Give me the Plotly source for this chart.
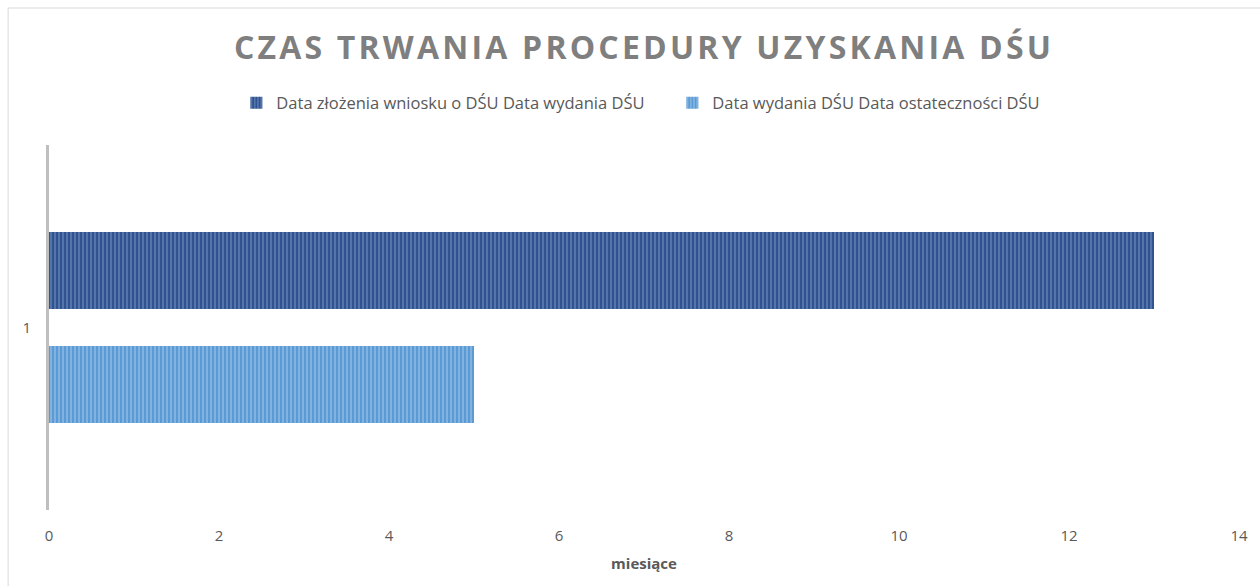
import plotly.graph_objects as go

# Dane: czas trwania (w miesiącach) poszczególnych etapów procedury DŚU
categories = ["1"]
series_names = [
    "Data złożenia wniosku o DŚU Data wydania DŚU",
    "Data wydania DŚU Data ostateczności DŚU",
]
months_submission_to_issue = [13]
months_issue_to_final = [5]
x_ticks = [0, 2, 4, 6, 8, 10, 12, 14]

TEXT_GREY = "#595959"
FONT = "Open Sans"

fig = go.Figure()

# W wykresie poziomym pierwszy ślad rysowany jest niżej, więc jasny idzie pierwszy
fig.add_trace(go.Bar(
    y=categories, x=months_issue_to_final, orientation="h",
    name=series_names[1], legendrank=2,
    marker=dict(
        color="#5b9bd5",
        line=dict(width=0),
        pattern=dict(shape="|", fgcolor="#c9def2", bgcolor="#5b9bd5",
                     size=4, solidity=0.35, fillmode="overlay"),
    ),
))
fig.add_trace(go.Bar(
    y=categories, x=months_submission_to_issue, orientation="h",
    name=series_names[0], legendrank=1,
    marker=dict(
        color="#2f5290",
        line=dict(width=0),
        pattern=dict(shape="|", fgcolor="#9fb5da", bgcolor="#2f5290",
                     size=4, solidity=0.35, fillmode="overlay"),
    ),
))

# Ramka wokół obszaru wykresu (lewa i górna krawędź)
plot_l, plot_r, plot_t, plot_b = 49, 1243, 145, 510
pw, ph = plot_r - plot_l, plot_b - plot_t
px_x = lambda p: (p - plot_l) / pw
px_y = lambda p: (plot_b - p) / ph
fig.add_shape(type="line", xref="paper", yref="paper",
              x0=px_x(8), x1=px_x(8), y0=px_y(590), y1=px_y(8),
              line=dict(color="#d9d9d9", width=1))
fig.add_shape(type="line", xref="paper", yref="paper",
              x0=px_x(8), x1=px_x(1265), y0=px_y(8), y1=px_y(8),
              line=dict(color="#d9d9d9", width=1))

fig.update_layout(
    width=1260, height=586,
    margin=dict(l=plot_l, r=1260 - plot_r, t=plot_t, b=586 - plot_b),
    paper_bgcolor="white", plot_bgcolor="white",
    barmode="group", bargap=0.375, bargroupgap=0.325,
    font=dict(family=FONT, color=TEXT_GREY, size=14),
    title=dict(
        text="<b>CZAS TRWANIA PROCEDURY UZYSKANIA DŚU</b>",
        x=0.5, xref="paper", xanchor="center",
        y=1 - 48 / 586, yanchor="middle",
        font=dict(family=FONT, size=32, color="#7f7f7f"),
    ),
    legend=dict(
        orientation="h", x=px_x(237), xref="paper", xanchor="left",
        y=px_y(103), yanchor="middle",
        font=dict(family=FONT, size=16.5, color=TEXT_GREY),
        itemwidth=30, entrywidth=391, traceorder="normal",
    ),
    xaxis=dict(
        range=[0, 14], tickvals=x_ticks, showgrid=False, zeroline=False,
        showline=False, ticks="", ticklabelstandoff=15,
        tickfont=dict(size=15, color=TEXT_GREY),
        title=dict(text="<b>miesiące</b>", font=dict(size=15, color=TEXT_GREY), standoff=14),
    ),
    yaxis=dict(
        type="category", showgrid=False, zeroline=False,
        showline=True, linecolor="#bfbfbf", linewidth=3,
        ticks="", ticklabelstandoff=12,
        tickfont=dict(size=15, color=TEXT_GREY),
    ),
)

# Rozstrzelenie liter w tytule
spacing_js = """
document.querySelectorAll('.gtitle').forEach(function (el) {
    el.style.letterSpacing = '3.2px';
});
"""

fig.write_html("out.html", post_script=spacing_js)
